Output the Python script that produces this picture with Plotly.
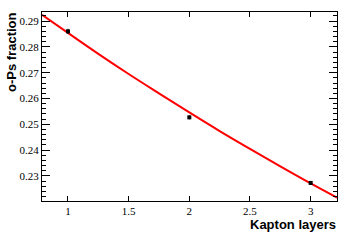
import plotly.graph_objects as go

# data points
layers = [1, 2, 3]
fraction = [0.2860, 0.2527, 0.2273]
fraction_err = [0.0010, 0.0008, 0.0006]

# fit curve
fit_x = [0.786, 1.0, 1.25, 1.5, 1.75, 2.0, 2.25, 2.5, 2.75, 3.0, 3.217]
fit_y = [0.2924, 0.2854, 0.2773, 0.2695, 0.2620, 0.2546, 0.2474, 0.2405, 0.2337, 0.2271, 0.2216]

x_range = [0.786, 3.217]
y_range = [0.2203, 0.2935]

fig = go.Figure()
fig.add_trace(go.Scatter(
    x=fit_x, y=fit_y, mode="lines", line=dict(color="#ff0000", width=2, shape="spline"),
    hoverinfo="skip", showlegend=False))
fig.add_trace(go.Scatter(
    x=layers, y=fraction, mode="markers",
    marker=dict(symbol="square", size=4, color="black"),
    error_y=dict(type="data", array=fraction_err, color="black", thickness=1, width=0),
    showlegend=False))

tickfont = dict(family="Times New Roman, Liberation Serif, serif", size=11, color="black")
fig.update_layout(
    width=355, height=240,
    margin=dict(l=42, r=18, t=12, b=39),
    paper_bgcolor="white", plot_bgcolor="white",
    xaxis=dict(range=x_range, tickvals=[1, 1.5, 2, 2.5, 3], ticktext=["1", "1.5", "2", "2.5", "3"],
               ticks="inside", ticklen=5, tickcolor="black", tickwidth=1,
               showline=True, linecolor="black", linewidth=1, mirror="allticks",
               showgrid=False, zeroline=False, tickfont=tickfont),
    yaxis=dict(range=y_range, tickvals=[0.23, 0.24, 0.25, 0.26, 0.27, 0.28, 0.29],
               ticktext=["0.23", "0.24", "0.25", "0.26", "0.27", "0.28", "0.29"],
               ticks="inside", ticklen=8, tickcolor="black", tickwidth=1,
               minor=dict(dtick=0.002, tick0=0.22, ticks="inside", ticklen=4, tickcolor="black", showgrid=False),
               showline=True, linecolor="black", linewidth=1, mirror="allticks",
               showgrid=False, zeroline=False, tickfont=tickfont),
    annotations=[
        dict(text="<b>o-Ps fraction</b>", x=0, y=1, xref="paper", yref="paper",
             xanchor="center", yanchor="top", xshift=-31, yshift=2, textangle=-90,
             showarrow=False, font=dict(family="Liberation Sans", size=13, color="black")),
        dict(text="<b>Kapton layers</b>", x=1, y=0, xref="paper", yref="paper",
             xanchor="right", yanchor="top", xshift=1, yshift=-14,
             showarrow=False, font=dict(family="Liberation Sans", size=13, color="black")),
    ],
)
fig.write_html("out.html", config={"displayModeBar": False},
               post_script="document.body.style.margin='0';")
